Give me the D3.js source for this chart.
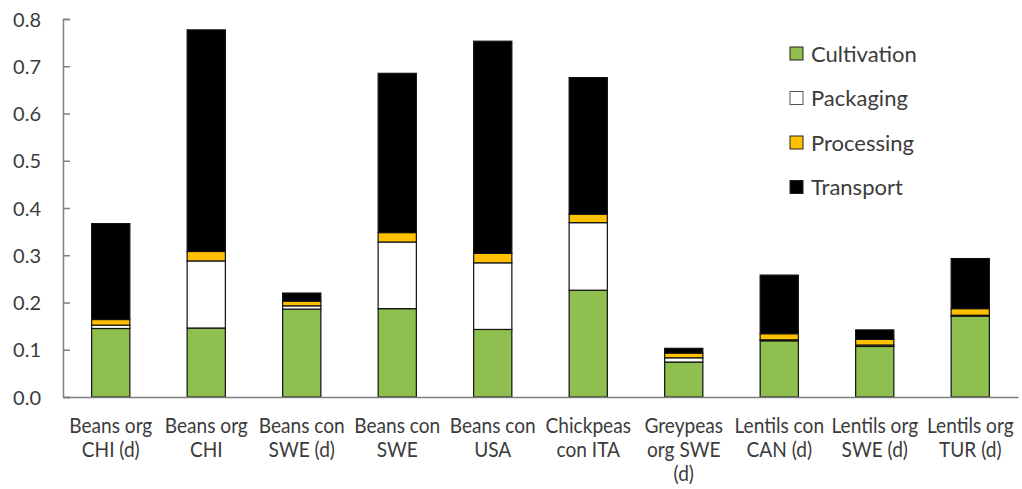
<!DOCTYPE html>
<html>
<head>
<meta charset="utf-8">
<script src="https://cdn.jsdelivr.net/npm/d3@7"></script>
<style>
  html, body { margin: 0; padding: 0; background: #fff; }
  svg { display: block; }
  text { font-family: Lato, "Liberation Sans", sans-serif; fill: #3b3b3b; }
</style>
</head>
<body>
<svg id="chart" width="1022" height="489"></svg>
<script>
const categories = [
  ["Beans org", "CHI (d)"],
  ["Beans org", "CHI"],
  ["Beans con", "SWE (d)"],
  ["Beans con", "SWE"],
  ["Beans con", "USA"],
  ["Chickpeas", "con ITA"],
  ["Greypeas", "org SWE", "(d)"],
  ["Lentils con", "CAN (d)"],
  ["Lentils org", "SWE (d)"],
  ["Lentils org", "TUR (d)"]
];
const seriesNames = ["Cultivation", "Packaging", "Processing", "Transport"];
const cultivation = [0.145, 0.146, 0.186, 0.187, 0.143, 0.226, 0.074, 0.119, 0.107, 0.171];
const packaging   = [0.007, 0.142, 0.007, 0.141, 0.141, 0.143, 0.009, 0.002, 0.003, 0.002];
const processing  = [0.012, 0.020, 0.010, 0.020, 0.020, 0.018, 0.010, 0.013, 0.012, 0.014];
const transport   = [0.203, 0.469, 0.017, 0.337, 0.449, 0.289, 0.010, 0.124, 0.020, 0.106];
const yTicks = [0, 0.1, 0.2, 0.3, 0.4, 0.5, 0.6, 0.7, 0.8];
const colors = ["#8FC04F", "#FFFFFF", "#FFC000", "#000000"];

const rows = categories.map((c, i) => ({
  key: c.join(" "),
  lines: c,
  Cultivation: cultivation[i],
  Packaging: packaging[i],
  Processing: processing[i],
  Transport: transport[i]
}));

const svg = d3.select("#chart");
const mLeft = 63, mRight = 1018, mTop = 19, mBottom = 397;

const x = d3.scaleBand().domain(rows.map(d => d.key)).range([mLeft, mRight])
  .paddingInner(0.6).paddingOuter(0.3);
const y = d3.scaleLinear().domain([0, 0.8]).range([mBottom, mTop]);
const color = d3.scaleOrdinal().domain(seriesNames).range(colors);

const stacked = d3.stack().keys(seriesNames)(rows);

// bars
const g = svg.append("g");
stacked.forEach(layer => {
  g.append("g").selectAll("rect").data(layer).join("rect")
    .attr("x", d => x(d.data.key))
    .attr("width", x.bandwidth())
    .attr("y", d => y(d[1]))
    .attr("height", d => y(d[0]) - y(d[1]))
    .attr("fill", color(layer.key))
    .attr("stroke", "#111")
    .attr("stroke-width", 1.2);
});

// y axis
const yAxis = d3.axisRight(y).tickValues(yTicks).tickFormat(d3.format(".1f")).tickSize(7).tickPadding(0);
const ya = svg.append("g").attr("transform", `translate(${mLeft},0)`).call(yAxis);
ya.select(".domain").attr("stroke", "#7f7f7f").attr("stroke-width", 1.5);
ya.selectAll(".tick line").attr("stroke", "#7f7f7f").attr("stroke-width", 1.5);
ya.selectAll(".tick text")
  .attr("x", -22).attr("text-anchor", "end")
  .attr("dy", "0.35em")
  .style("font-size", "20px").attr("fill", "#3b3b3b");

// x axis
const xAxis = d3.axisBottom(x).tickSize(0).tickFormat("");
const xa = svg.append("g").attr("transform", `translate(0,${mBottom})`).call(xAxis);
xa.select(".domain").attr("stroke", "#7f7f7f").attr("stroke-width", 1.5);
xa.selectAll(".tick").each(function(d, i) {
  const t = d3.select(this).append("text")
    .attr("text-anchor", "middle")
    .attr("transform", "scale(0.91,1)")
    .style("font-size", "21px")
    .attr("fill", "#3b3b3b");
  rows[i].lines.forEach((ln, j) => {
    t.append("tspan").attr("x", 0).attr("y", 36 + j * 24).text(ln);
  });
});

// legend
const legend = svg.append("g").attr("transform", "translate(790,0)");
const legendY = [54, 98.5, 143, 187.5];
seriesNames.forEach((s, i) => {
  const lg = legend.append("g").attr("transform", `translate(0,${legendY[i]})`);
  lg.append("rect").attr("x", 0).attr("y", -7).attr("width", 13).attr("height", 13)
    .attr("fill", color(s)).attr("stroke", s === "Packaging" ? "#555" : "#222").attr("stroke-width", 1);
  lg.append("text").attr("x", 21).attr("y", 0).attr("dy", "0.35em")
    .style("font-size", "22px").attr("fill", "#2b2b2b").text(s);
});
</script>
</body>
</html>
